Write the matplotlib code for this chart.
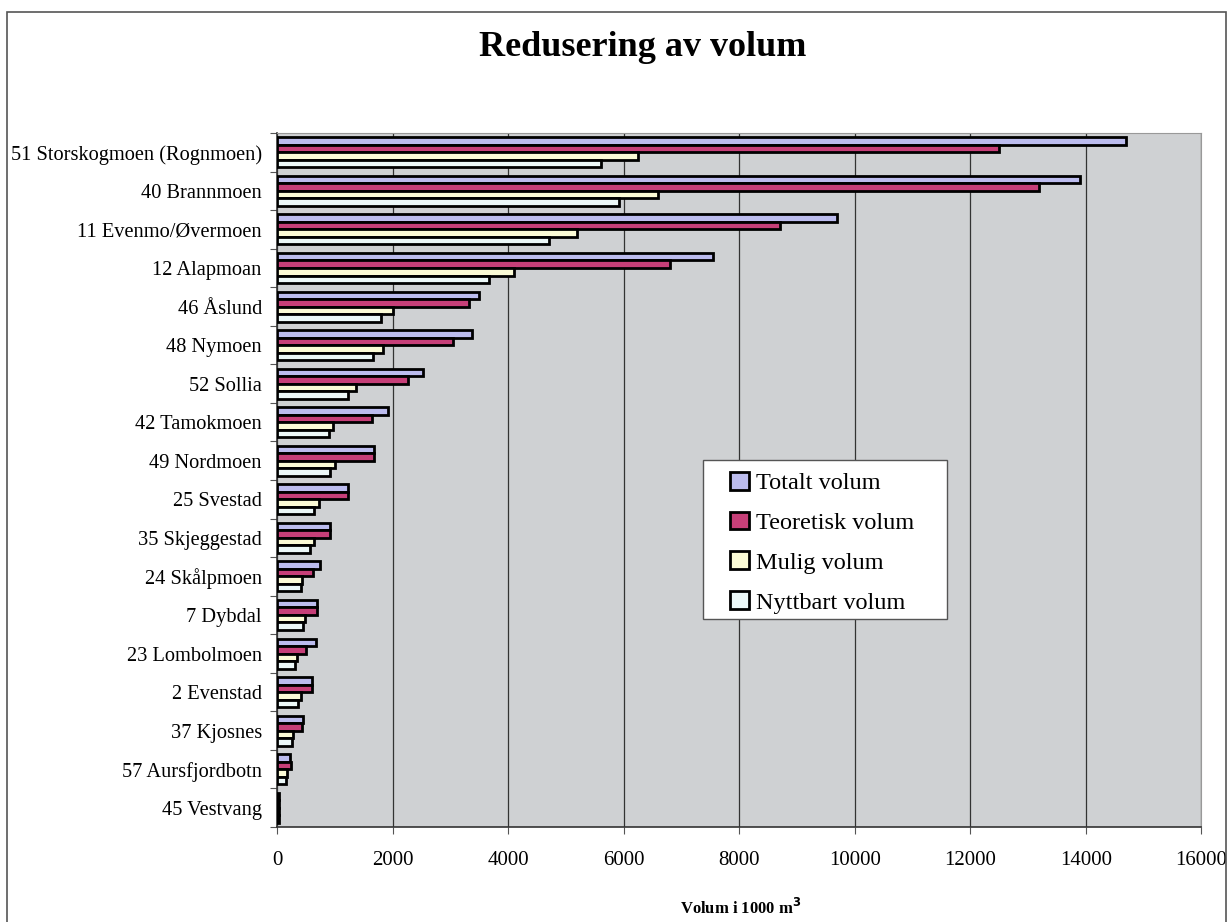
import numpy as np
import matplotlib
matplotlib.use("Agg")
import matplotlib.pyplot as plt
from matplotlib.patches import Rectangle

plt.rcParams['font.family'] = ['Liberation Serif', 'DejaVu Serif']

# Data (volum i 1000 m3)
names = ["51 Storskogmoen (Rognmoen)", "40 Brannmoen", "11 Evenmo/Øvermoen",
         "12 Alapmoan", "46 Åslund", "48 Nymoen", "52 Sollia", "42 Tamokmoen",
         "49 Nordmoen", "25 Svestad", "35 Skjeggestad", "24 Skålpmoen",
         "7 Dybdal", "23 Lombolmoen", "2 Evenstad", "37 Kjosnes",
         "57 Aursfjordbotn", "45 Vestvang"]
totalt = [14700, 13900, 9700, 7550, 3500, 3380, 2530, 1920, 1680, 1230,
          920, 740, 700, 670, 600, 450, 230, 40]
teoretisk = [12500, 13200, 8700, 6800, 3320, 3050, 2270, 1650, 1680, 1230,
             920, 630, 700, 500, 600, 430, 240, 40]
mulig = [6250, 6600, 5200, 4100, 2010, 1840, 1370, 970, 1000, 730,
         640, 440, 490, 340, 410, 280, 170, 30]
nyttbart = [5600, 5920, 4700, 3670, 1800, 1660, 1230, 900, 920, 640,
            570, 410, 450, 310, 360, 260, 150, 30]

series = [("Totalt volum", totalt, "#bcbcee"),
          ("Teoretisk volum", teoretisk, "#c63f78"),
          ("Mulig volum", mulig, "#fbfbd6"),
          ("Nyttbart volum", nyttbart, "#ecf8f8")]

fig = plt.figure(figsize=(12.28, 9.22), dpi=100)
ax = fig.add_axes([0.2256, 0.103, 0.7526, 0.7527])
ax.set_facecolor("#cfd1d3")

y = np.arange(len(names))
h = 0.195
for i, (label, vals, col) in enumerate(series):
    ax.barh(y + (i - 1.5) * h, vals, height=h, color=col, edgecolor="black",
            linewidth=2.0, label=label, zorder=3)

ax.set_xlim(0, 16000)
ax.set_ylim(len(names) - 0.5, -0.5)
ax.set_xticks(np.arange(0, 16001, 2000))
ax.xaxis.grid(True, color="#333333", linewidth=0.9, zorder=0)
ax.set_axisbelow(True)

# category ticks at group boundaries, labels centred
ax.set_yticks(np.arange(-0.5, len(names), 1.0))
ax.set_yticklabels([])
ax.set_yticks(y, minor=True)
ax.set_yticklabels(names, minor=True, fontsize=14.7)
ax.tick_params(axis="y", which="minor", length=0, pad=11)
ax.tick_params(axis="y", which="major", length=5, color="#555555")
ax.tick_params(axis="x", length=5, labelsize=15, pad=12, color="#555555")

for side in ["top", "right"]:
    ax.spines[side].set_color("#999999")
for side in ["left", "bottom"]:
    ax.spines[side].set_color("#333333")
    ax.spines[side].set_linewidth(1.2)

# legend box drawn by hand, entries placed inside it
ax.add_patch(Rectangle((0.461, 0.30), 0.264, 0.229, transform=ax.transAxes,
                       facecolor="white", edgecolor="#555555", linewidth=1.0,
                       zorder=4))
leg = ax.legend(loc="upper left", bbox_to_anchor=(0.4905, 0.512),
                fontsize=17.5, frameon=False,
                handlelength=0.75, handleheight=0.75, handletextpad=0.3,
                labelspacing=0.72, borderpad=0, borderaxespad=0)
for p in leg.get_patches():
    p.set_linewidth(2.0)
leg.set_zorder(5)

fig.text(0.5236, 0.948, "Redusering av volum", ha="center", va="center",
         fontsize=26, fontweight="bold")
fig.text(0.6035, 0.0155, r"Volum i 1000 m$^\mathbf{3}$", ha="center", va="center",
         fontsize=12, fontweight="bold")

fig.patches.append(Rectangle((0.0057, -0.01), 0.993, 0.997, transform=fig.transFigure,
                             fill=False, edgecolor="#555555", linewidth=1.2))

fig.savefig("out.png", dpi=100)
